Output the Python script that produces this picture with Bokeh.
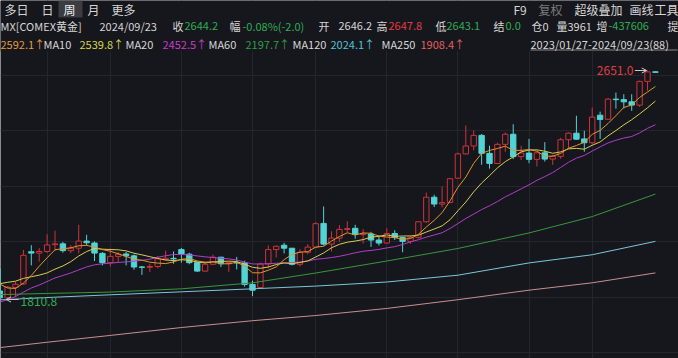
import numpy as np
import pandas as pd
from bokeh.plotting import figure
from bokeh.models import Range1d, FixedTicker, Label, Arrow, OpenHead
from bokeh.embed import file_html
from bokeh.resources import INLINE

# ---------------- data (weekly COMEX gold, 2023/01/23 .. 2024/09/23) ----------------
first_week = "2023-01-23"
opens = [1928, 1929, 1876, 1874, 1842, 1817, 1855, 1868, 1986, 1981,
         1987, 2012, 2015, 1990, 1999, 2025, 2018, 1980, 1946, 1969,
         1978, 1971, 1930, 1929, 1932, 1957, 1962, 1994, 1977, 1946,
         1915, 1940, 1966, 1942, 1946, 1945, 1866, 1855, 1941, 1994,
         2010, 1999, 1940, 1984, 2003, 2090, 2014, 2036, 2068, 2072,
         2049, 2051, 2029, 2018, 2053, 2038, 2024, 2039, 2096, 2186,
         2161, 2167, 2256, 2345, 2374, 2413, 2347, 2310, 2380, 2417,
         2335, 2348, 2325, 2349, 2326, 2336, 2397, 2421, 2400, 2386,
         2487, 2472, 2546, 2544, 2536, 2524, 2611, 2646.2]
highs = [1949, 1975, 1895, 1880, 1852, 1860, 1875, 1993, 2010, 1999,
         2050, 2063, 2022, 2010, 2085, 2048, 2024, 1985, 1998, 1985,
         1985, 1976, 1934, 1942, 1970, 1990, 1987, 2000, 1982, 1951,
         1950, 1975, 1967, 1948, 1967, 1953, 1880, 1946, 2009, 2009,
         2019, 1999, 1995, 2014, 2095, 2152, 2061, 2084, 2098, 2085,
         2069, 2059, 2046, 2072, 2065, 2041, 2045, 2098, 2203, 2195,
         2225, 2256, 2350, 2449, 2431, 2418, 2375, 2386, 2424, 2454,
         2375, 2400, 2350, 2388, 2342, 2404, 2424, 2485, 2430, 2515,
         2500, 2550, 2570, 2564, 2564, 2614, 2651.0, 2647.8]
lows = [1916, 1867, 1862, 1830, 1815, 1810.8, 1820, 1865, 1936, 1950,
        1982, 1990, 1983, 1981, 1980, 2009, 1952, 1936, 1932, 1947,
        1936, 1920, 1901, 1912, 1925, 1955, 1942, 1946, 1940, 1913,
        1912, 1937, 1930, 1912, 1921, 1858, 1823, 1853, 1925, 1965,
        1980, 1936, 1932, 1977, 2001, 2009, 1987, 2023, 2058, 2034,
        2016, 2004, 2009, 2016, 2029, 1984, 2015, 2034, 2093, 2150,
        2149, 2164, 2253, 2343, 2358, 2305, 2291, 2308, 2353, 2326,
        2322, 2311, 2299, 2317, 2305, 2327, 2363, 2397, 2353, 2380,
        2400, 2470, 2511, 2512, 2503, 2517, 2577, 2643.1]
closes = [1929, 1876, 1874, 1842, 1817, 1856, 1867, 1973, 1981, 1987,
          2011, 2015, 1990, 1999, 2025, 2019, 1981, 1946, 1969, 1977,
          1971, 1930, 1929, 1932, 1960, 1962, 1960, 1978, 1946, 1915,
          1940, 1966, 1942, 1946, 1945, 1866, 1845, 1941, 1994, 2006,
          1999, 1940, 1984, 2003, 2089, 2014, 2036, 2068, 2071, 2049,
          2051, 2029, 2018, 2053, 2038, 2024, 2039, 2096, 2186, 2161,
          2166, 2254, 2345, 2374, 2413, 2347, 2310, 2380, 2417, 2335,
          2348, 2325, 2349, 2326, 2336, 2397, 2421, 2399, 2386, 2480,
          2471, 2546, 2544, 2536, 2524, 2611, 2646, 2644.2]
# weekly closes of the 15 weeks before the first bar (needed for MA5/10/20)
closes_before_chart = [1648, 1656, 1645, 1676, 1771, 1754, 1755, 1809, 1810,
                       1800, 1804, 1826, 1870, 1921, 1928]
# long moving averages at these bar indices
long_ma_idx = [3, 10, 18, 27, 36, 44, 53, 62, 71, 79, 87]
ma60 = [1828, 1833, 1838, 1850, 1872, 1908, 1952, 1998, 2055, 2115, 2197.7]
ma120 = [1808, 1818, 1828, 1839, 1850, 1860, 1875, 1900, 1945, 1975, 2024.1]
ma250 = [1631, 1654, 1679, 1708, 1733, 1752, 1778, 1810, 1845, 1872, 1908.4]
# moving-average readout shown in the header (MA5, MA10, MA20, MA60, MA120, MA250)
ma_readout = [2592.1, 2539.8, 2452.5, 2197.7, 2024.1, 1908.4]
chart_high = 2651.0
chart_low = 1810.8

# ---------------- layout helpers ----------------
W, H = 678, 358
BG = "#16171c"
BAR_PX = 7.9           # pixels per weekly bar
IDX_AT_LEFT = 4.1      # bar index at the left edge
PRICE_PER_PX = 3.669
PRICE_AT_TOP = 2651.0 + 70 * PRICE_PER_PX

def px_x(px):
    return IDX_AT_LEFT + px / BAR_PX

def px_y(py):
    return PRICE_AT_TOP - py * PRICE_PER_PX

n = len(closes)
idx = np.arange(n)
o = np.array(opens, float); h = np.array(highs, float)
l = np.array(lows, float); c = np.array(closes, float)
up = c >= o

full = pd.Series(closes_before_chart + closes, dtype=float)
def sma(k):
    return full.rolling(k).mean().to_numpy()[len(closes_before_chart):]
ma5, ma10, ma20 = sma(5), sma(10), sma(20)

p = figure(width=W, height=H, output_backend="svg", toolbar_location=None,
           x_range=Range1d(px_x(0), px_x(W)), y_range=Range1d(px_y(H), px_y(0)),
           min_border=0, background_fill_color=BG, border_fill_color=BG,
           outline_line_color=None)
p.xaxis.visible = False
p.yaxis.visible = False

# grid: first trading week of every second month, and even price rows
weeks = pd.date_range(first_week, periods=n, freq="7D")
grid_x = []
for ms in pd.date_range("2023-04-01", "2024-08-01", freq="2MS"):
    d = ms
    while d.weekday() >= 5:
        d += pd.Timedelta(days=1)
    grid_x.append(int((d - weeks[0]).days // 7))
p.xgrid.ticker = FixedTicker(ticks=grid_x)
p.ygrid.ticker = FixedTicker(ticks=[px_y(75 + k * 55.4) for k in range(6)])
p.xgrid.grid_line_color = "#24262c"
p.ygrid.grid_line_color = "#24262c"

RED = "#d0323a"
CYAN = "#52d3d6"

# candles
bw = 0.68
dn = ~up
p.segment(x0=idx[dn], y0=l[dn], x1=idx[dn], y1=h[dn], line_color=CYAN, line_width=1)
p.vbar(x=idx[dn], top=o[dn], bottom=c[dn], width=bw, fill_color=CYAN, line_color=CYAN, line_width=1)
p.segment(x0=idx[up], y0=c[up], x1=idx[up], y1=h[up], line_color=RED, line_width=1)
p.segment(x0=idx[up], y0=l[up], x1=idx[up], y1=o[up], line_color=RED, line_width=1)
p.vbar(x=idx[up], top=c[up], bottom=o[up], width=bw, fill_color=BG, line_color=RED, line_width=1)

# moving averages
C_MA5, C_MA10, C_MA20 = "#e0962e", "#d8cc55", "#b03ec8"
C_MA60, C_MA120, C_MA250 = "#3a953f", "#7cc6d8", "#c98e8e"
p.line(long_ma_idx, ma250, line_color=C_MA250, line_width=1)
p.line(long_ma_idx, ma120, line_color=C_MA120, line_width=1)
p.line(long_ma_idx, ma60, line_color=C_MA60, line_width=1)
p.line(idx, ma20, line_color=C_MA20, line_width=1)
p.line(idx, ma10, line_color=C_MA10, line_width=1)
p.line(idx, ma5, line_color=C_MA5, line_width=1)

# header background and tab highlight
p.quad(left=px_x(0), right=px_x(W), bottom=px_y(51), top=px_y(0), fill_color=BG, line_color=None)
p.quad(left=px_x(58), right=px_x(82), bottom=px_y(17), top=px_y(0), fill_color="#3b3d43", line_color=None)
p.line([px_x(530), px_x(677)], [px_y(49.5), px_y(49.5)], line_color="#8a8a8a", line_width=1)

FONT = "Noto Sans CJK SC"
WHITE = "#d6d6d6"
GREEN = "#2fac55"
TRED = "#e23c42"

def txt(px, py, s, color=WHITE, size="11px"):
    p.add_layout(Label(x=px_x(px), y=px_y(py), text=s, text_color=color,
                       text_font=FONT, text_font_size=size,
                       text_baseline="middle", text_align="left"))

row1 = [(4, "多日", WHITE), (41, "日", WHITE), (63, "周", "#f0f0f0"), (87, "月", WHITE),
        (111, "更多", WHITE), (513, "F9", WHITE), (538, "复权", "#7c7c7c"),
        (574, "超级叠加", WHITE), (629, "画线", WHITE), (654, "工具", WHITE)]
for x0, s, col in row1:
    txt(x0, 9, s, col, "12px")

row2 = [(0, "MX[COMEX黄金]", WHITE), (99, "2024/09/23", WHITE), (172, "收", WHITE),
        (184, "2644.2", GREEN), (229, "幅", WHITE), (242, "-0.08%(-2.0)", GREEN),
        (318, "开", WHITE), (338, "2646.2", WHITE), (376, "高", WHITE),
        (388, "2647.8", TRED), (435, "低", WHITE), (446, "2643.1", GREEN),
        (493, "结", WHITE), (505, "0.0", GREEN), (531, "仓0", WHITE),
        (556, "量3961", WHITE), (596, "增", WHITE), (608, "-437606", GREEN),
        (667, "提", WHITE)]
for x0, s, col in row2:
    txt(x0, 25, s, col)

row3 = [(0, f"{ma_readout[0]:.1f}↑", "#e69a3a"), (43, "MA10", WHITE),
        (79, f"{ma_readout[1]:.1f}↑", "#d6d64a"), (125, "MA20", WHITE),
        (162, f"{ma_readout[2]:.1f}↑", "#cc3ccc"), (208, "MA60", WHITE),
        (245, f"{ma_readout[3]:.1f}↑", "#2f9e44"), (292, "MA120", WHITE),
        (330, f"{ma_readout[4]:.1f}↑", "#4fc4d4"), (381, "MA250", WHITE),
        (420, f"{ma_readout[5]:.1f}↑", "#e0605e"),
        (530, "2023/01/27-2024/09/23(88)", WHITE)]
for x0, s, col in row3:
    txt(x0, 43, s, col)

# extreme markers
hi_i = int(np.argmax(h)); lo_i = int(np.argmin(l))
p.add_layout(Label(x=hi_i, y=chart_high, x_offset=-14, text=f"{chart_high:.1f}",
                   text_color=TRED, text_font=FONT, text_font_size="12px",
                   text_baseline="middle", text_align="right"))
p.add_layout(Arrow(end=OpenHead(size=5, line_color="#c9c9c9", line_width=1),
                   x_start=hi_i - 1.6, y_start=chart_high, x_end=hi_i - 0.1, y_end=chart_high,
                   line_color="#c9c9c9", line_width=1))
p.add_layout(Label(x=lo_i, y=chart_low, x_offset=13, y_offset=-2, text=f"{chart_low:.1f}",
                   text_color=GREEN, text_font=FONT, text_font_size="12px",
                   text_baseline="middle", text_align="left"))
p.add_layout(Arrow(end=OpenHead(size=5, line_color="#c9c9c9", line_width=1),
                   x_start=lo_i + 1.4, y_start=chart_low, x_end=lo_i - 0.2, y_end=chart_low,
                   line_color="#c9c9c9", line_width=1))

open("out.html", "w").write(file_html(p, INLINE))
